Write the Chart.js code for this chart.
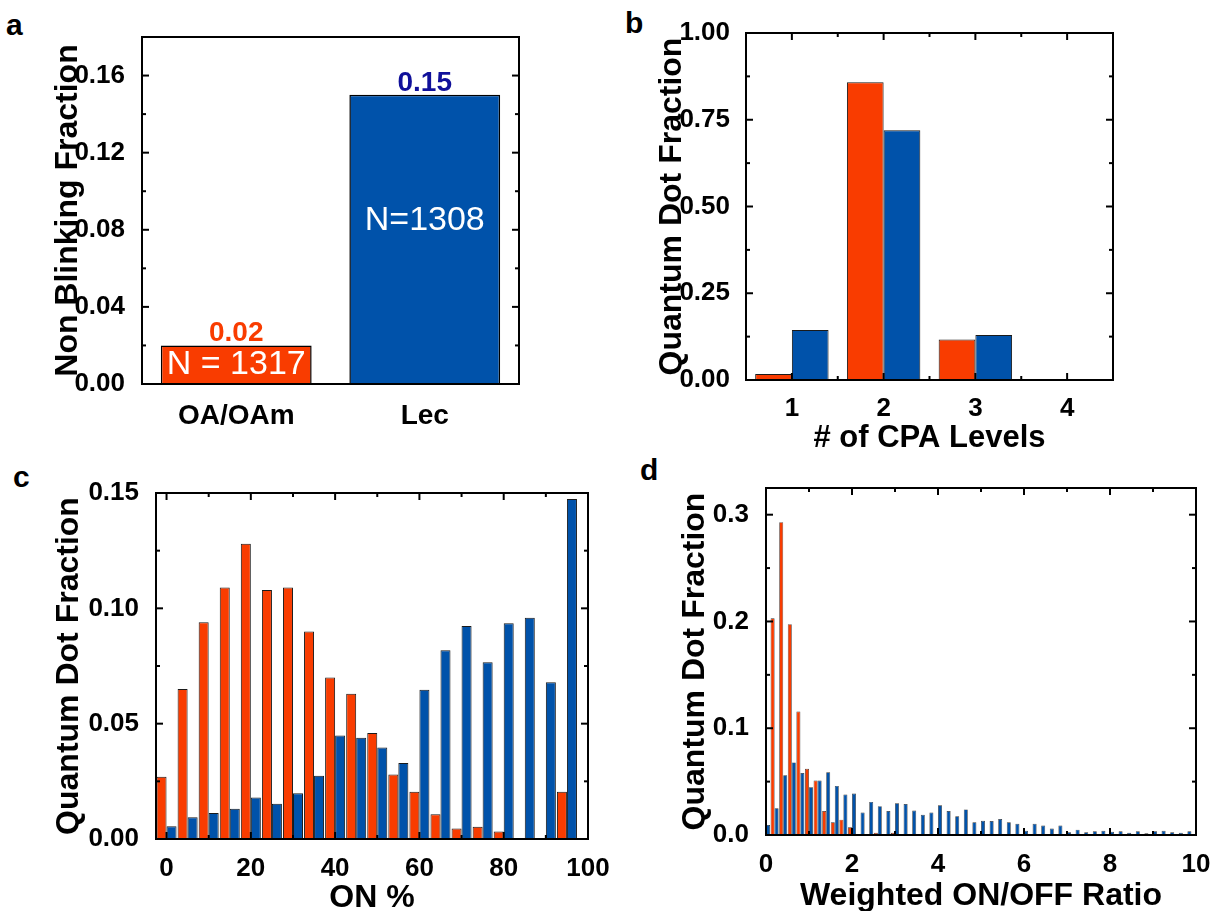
<!DOCTYPE html>
<html>
<head>
<meta charset="utf-8">
<title>Quantum dot blinking statistics</title>
<script src="https://cdn.jsdelivr.net/npm/chart.js@4.4.1/dist/chart.umd.min.js"></script>
<style>
    body {
        margin: 0;
        width: 1214px;
        height: 911px;
        position: relative;
        overflow: hidden;
        background: #fff;
        font-family: "Liberation Sans", Arial, sans-serif;
    }
    canvas { position: absolute; }
    .tag {
        position: absolute;
        font-size: 30px;
        line-height: 1;
        font-weight: bold;
    }
</style>
</head>
<body>

<div class="tag" style="left:6px;top:10px">a</div>
<div class="tag" style="left:625px;top:8px">b</div>
<div class="tag" style="left:13px;top:462px">c</div>
<div class="tag" style="left:640px;top:455px">d</div>

<canvas id="chartA" width="600" height="450" style="left:0;top:0"></canvas>
<canvas id="chartB" width="614" height="460" style="left:600px;top:0"></canvas>
<canvas id="chartC" width="614" height="470" style="left:0;top:450px"></canvas>
<canvas id="chartD" width="614" height="470" style="left:600px;top:450px"></canvas>

<script>
/* ===============================
   Data
=============================== */

const ligands = ["OA/OAm", "Lec"];
const nonBlinking = [0.02, 0.15];
const sampleSizes = ["N = 1317", "N=1308"];

const cpaLevels = [1, 2, 3, 4];
const cpaOA = [0.017, 0.858, 0.117, 0];
const cpaLec = [0.144, 0.72, 0.13, 0];

const onBins = [0, 5, 10, 15, 20, 25, 30, 35, 40, 45, 50, 55, 60, 65, 70, 75, 80, 85, 90, 95];
const onOA = [0.027, 0.065, 0.094, 0.109, 0.128, 0.108, 0.109, 0.090, 0.070, 0.063,
              0.046, 0.028, 0.0205, 0.0107, 0.0046, 0.0053, 0.0032, 0, 0, 0.0205];
const onLec = [0.0055, 0.0094, 0.0113, 0.0131, 0.018, 0.0153, 0.0198, 0.0274, 0.0449, 0.0439,
               0.0397, 0.0329, 0.0647, 0.0818, 0.0923, 0.0766, 0.0935, 0.0959, 0.068, 0.1474];

const ratioBins = [0, 0.2, 0.4, 0.6, 0.8, 1.0, 1.2, 1.4, 1.6, 1.8,
                   2.0, 2.2, 2.4, 2.6, 2.8, 3.0, 3.2, 3.4, 3.6, 3.8,
                   4.0, 4.2, 4.4, 4.6, 4.8, 5.0, 5.2, 5.4, 5.6, 5.8,
                   6.0, 6.2, 6.4, 6.6, 6.8, 7.0, 7.2, 7.4, 7.6, 7.8,
                   8.0, 8.2, 8.4, 8.6, 8.8, 9.0, 9.2, 9.4, 9.6, 9.8];
const ratioOA = [0, 0.203, 0.293, 0.1975, 0.1156, 0.062, 0.051, 0.0225, 0.012, 0.0144,
                 0.0072, 0.001, 0.0006, 0.002, 0.0006, 0.002, 0.001, 0, 0, 0,
                 0, 0, 0, 0, 0, 0, 0, 0, 0, 0,
                 0, 0, 0, 0, 0, 0, 0, 0, 0, 0,
                 0, 0, 0, 0, 0, 0, 0, 0, 0, 0];
const ratioLec = [0.0094, 0.025, 0.056, 0.068, 0.058, 0.0447, 0.051, 0.0588, 0.046, 0.038,
                  0.0388, 0.021, 0.031, 0.027, 0.0225, 0.0297, 0.029, 0.023, 0.019, 0.021,
                  0.0278, 0.0225, 0.0175, 0.024, 0.012, 0.0134, 0.013, 0.015, 0.012, 0.0106,
                  0.004, 0.0106, 0.0088, 0.006, 0.0088, 0.0025, 0.005, 0.0025, 0.0034, 0.004,
                  0.003, 0.0034, 0.002, 0.0034, 0.0016, 0.0034, 0.004, 0.0025, 0.002, 0.0034];

// tick labels
const ticksA = [0, 0.04, 0.08, 0.12, 0.16];
const ticksBy = [0, 0.25, 0.5, 0.75, 1];
const ticksCx = [0, 20, 40, 60, 80, 100];
const ticksCy = [0, 0.05, 0.1, 0.15];
const ticksDx = [0, 2, 4, 6, 8, 10];
const ticksDy = [0, 0.1, 0.2, 0.3];

const ORANGE = "#F93C00";
const BLUE = "#0052AA";
const EDGE = "#1a1a1a";

Chart.defaults.font.family = '"Liberation Sans", Arial, sans-serif';
Chart.defaults.color = "#000";
Chart.defaults.animation = false;
Chart.defaults.plugins.legend.display = false;
Chart.defaults.plugins.tooltip.enabled = false;

/* ===============================
   Helpers
=============================== */

function pairs(xs, ys) {
    return xs.map(function (x, i) { return { x: x, y: ys[i] }; });
}

function fixedTicks(values) {
    return function (scale) {
        scale.ticks = values.map(function (v) { return { value: v }; });
    };
}

const tickFont = { size: 26, weight: "bold", lineHeight: 1 };

function titleFont(size) {
    return { size: size, weight: "bold", lineHeight: 1 };
}

function yScale(o) {
    return {
        min: o.min,
        max: o.max,
        grid: { display: false },
        border: { display: false },
        afterBuildTicks: fixedTicks(o.ticks),
        afterFit: function (s) {
            s.width = o.width;
            s.paddingTop = 0;
            s.paddingBottom = 0;
        },
        ticks: {
            padding: o.labelPad,
            autoSkip: false,
            font: tickFont,
            callback: function (v) { return v.toFixed(o.digits); }
        },
        title: {
            display: true,
            text: o.title,
            padding: { top: o.titlePad, bottom: 0 },
            font: titleFont(32)
        }
    };
}

function xScale(o) {
    return {
        type: "linear",
        offset: false,
        min: o.min,
        max: o.max,
        grid: { display: false },
        border: { display: false },
        afterBuildTicks: fixedTicks(o.ticks),
        afterFit: function (s) {
            s.height = o.height;
            s.paddingLeft = 0;
            s.paddingRight = 0;
        },
        ticks: {
            padding: o.labelPad,
            autoSkip: false,
            maxRotation: 0,
            font: tickFont,
            callback: function (v) { return String(v); }
        },
        title: {
            display: true,
            text: o.title,
            padding: { top: 0, bottom: o.titlePad },
            font: titleFont(o.titleSize)
        }
    };
}

// box around the plot with inward major / minor ticks
const frameTicks = {
    id: "frameTicks",
    afterDatasetsDraw: function (chart, args, opts) {
        const ctx = chart.ctx;
        const a = chart.chartArea;
        ctx.save();
        ctx.strokeStyle = "#000";
        ctx.lineWidth = 2;

        function marks(scale) {
            const major = scale.ticks.map(function (t) { return t.value; });
            const out = major.map(function (v) { return [v, 7]; });
            for (let i = 1; i < major.length; i++) {
                out.push([(major[i - 1] + major[i]) / 2, 4]);
            }
            return out;
        }

        function seg(x1, y1, x2, y2) {
            ctx.beginPath();
            ctx.moveTo(x1, y1);
            ctx.lineTo(x2, y2);
            ctx.stroke();
        }

        if (opts.x) {
            marks(chart.scales.x).forEach(function (m) {
                const p = chart.scales.x.getPixelForValue(m[0]);
                if (p <= a.left + 1 || p >= a.right - 1) return;
                seg(p, a.bottom, p, a.bottom - m[1]);
                seg(p, a.top, p, a.top + m[1]);
            });
        }

        marks(chart.scales.y).forEach(function (m) {
            const p = chart.scales.y.getPixelForValue(m[0]);
            if (p <= a.top + 1 || p >= a.bottom - 1) return;
            seg(a.left, p, a.left + m[1], p);
            seg(a.right, p, a.right - m[1], p);
        });

        ctx.strokeRect(a.left, a.top, a.right - a.left, a.bottom - a.top);
        ctx.restore();
    }
};

// value and sample size written on the bars of panel a
const barNotes = {
    id: "barNotes",
    afterDatasetsDraw: function (chart) {
        const ctx = chart.ctx;
        const bars = chart.getDatasetMeta(0).data;
        const valueColors = [ORANGE, "#10109A"];
        ctx.save();
        ctx.textAlign = "center";
        bars.forEach(function (bar, i) {
            ctx.font = 'bold 28px "Liberation Sans", Arial, sans-serif';
            ctx.fillStyle = valueColors[i];
            ctx.textBaseline = "alphabetic";
            ctx.fillText(nonBlinking[i].toFixed(2), bar.x, bar.y - 4);

            ctx.font = '34px "Liberation Sans", Arial, sans-serif';
            ctx.fillStyle = "#fff";
            ctx.textBaseline = "middle";
            const y = i === 0 ? (bar.y + bar.base) / 2 : bar.y + 126;
            ctx.fillText(sampleSizes[i], bar.x, y);
        });
        ctx.restore();
    }
};

/* ===============================
   a : Non blinking fraction
=============================== */

new Chart(document.getElementById("chartA"), {
    type: "bar",
    data: {
        labels: ligands,
        datasets: [{
            data: nonBlinking,
            backgroundColor: [ORANGE, BLUE],
            borderColor: "#000",
            borderWidth: 1.5,
            barPercentage: 0.8,
            categoryPercentage: 1
        }]
    },
    options: {
        responsive: false,
        devicePixelRatio: 1,
        layout: { padding: { left: 0, top: 37, right: 81, bottom: 0 } },
        scales: {
            x: {
                grid: { display: false },
                border: { display: false },
                afterFit: function (s) {
                    s.height = 66;
                    s.paddingLeft = 0;
                    s.paddingRight = 0;
                },
                ticks: {
                    padding: 10,
                    font: { size: 28, weight: "bold", lineHeight: 1 }
                }
            },
            y: yScale({
                min: 0, max: 0.18, ticks: ticksA, digits: 2, width: 142,
                labelPad: 9, title: "Non Blinking Fraction", titlePad: 52
            })
        },
        plugins: { frameTicks: { x: false } }
    },
    plugins: [frameTicks, barNotes]
});

/* ===============================
   b : CPA levels
=============================== */

new Chart(document.getElementById("chartB"), {
    type: "bar",
    data: {
        datasets: [
            { data: pairs(cpaLevels, cpaOA), backgroundColor: ORANGE },
            { data: pairs(cpaLevels, cpaLec), backgroundColor: BLUE }
        ]
    },
    options: {
        responsive: false,
        devicePixelRatio: 1,
        layout: { padding: { left: 0, top: 33, right: 101, bottom: 0 } },
        datasets: {
            bar: { barPercentage: 1, categoryPercentage: 0.8, borderColor: EDGE, borderWidth: 1 }
        },
        scales: {
            x: xScale({
                min: 0.5, max: 4.5, ticks: cpaLevels, height: 80, labelPad: 8,
                title: "# of CPA Levels", titleSize: 31, titlePad: 6
            }),
            y: yScale({
                min: 0, max: 1, ticks: ticksBy, digits: 2, width: 146,
                labelPad: 8, title: "Quantum Dot Fraction", titlePad: 56
            })
        },
        plugins: { frameTicks: { x: true } }
    },
    plugins: [frameTicks]
});

/* ===============================
   c : ON %
=============================== */

new Chart(document.getElementById("chartC"), {
    type: "bar",
    data: {
        datasets: [
            { data: pairs(onBins, onOA), backgroundColor: ORANGE },
            { data: pairs(onBins, onLec), backgroundColor: BLUE }
        ]
    },
    options: {
        responsive: false,
        devicePixelRatio: 1,
        layout: { padding: { left: 0, top: 43, right: 26, bottom: 0 } },
        datasets: {
            bar: { barPercentage: 1, categoryPercentage: 0.95, borderColor: EDGE, borderWidth: 1 }
        },
        scales: {
            x: xScale({
                min: -2.5, max: 100, ticks: ticksCx, height: 81, labelPad: 9,
                title: "ON %", titleSize: 32, titlePad: 6
            }),
            y: yScale({
                min: 0, max: 0.15, ticks: ticksCy, digits: 2, width: 156,
                labelPad: 9, title: "Quantum Dot Fraction", titlePad: 53
            })
        },
        plugins: { frameTicks: { x: true } }
    },
    plugins: [frameTicks]
});

/* ===============================
   d : Weighted ON/OFF ratio
=============================== */

new Chart(document.getElementById("chartD"), {
    type: "bar",
    data: {
        datasets: [
            { data: pairs(ratioBins, ratioOA), backgroundColor: ORANGE },
            { data: pairs(ratioBins, ratioLec), backgroundColor: BLUE }
        ]
    },
    options: {
        responsive: false,
        devicePixelRatio: 1,
        layout: { padding: { left: 0, top: 38, right: 18, bottom: 0 } },
        datasets: {
            bar: { barPercentage: 1, categoryPercentage: 0.93, borderColor: "#333", borderWidth: 0.7 }
        },
        scales: {
            x: xScale({
                min: 0, max: 10, ticks: ticksDx, height: 85, labelPad: 9,
                title: "Weighted ON/OFF Ratio", titleSize: 32, titlePad: 8
            }),
            y: yScale({
                min: 0, max: 0.325, ticks: ticksDy, digits: 1, width: 166,
                labelPad: 9, title: "Quantum Dot Fraction", titlePad: 79
            })
        },
        plugins: { frameTicks: { x: true } }
    },
    plugins: [frameTicks]
});
</script>
</body>
</html>
